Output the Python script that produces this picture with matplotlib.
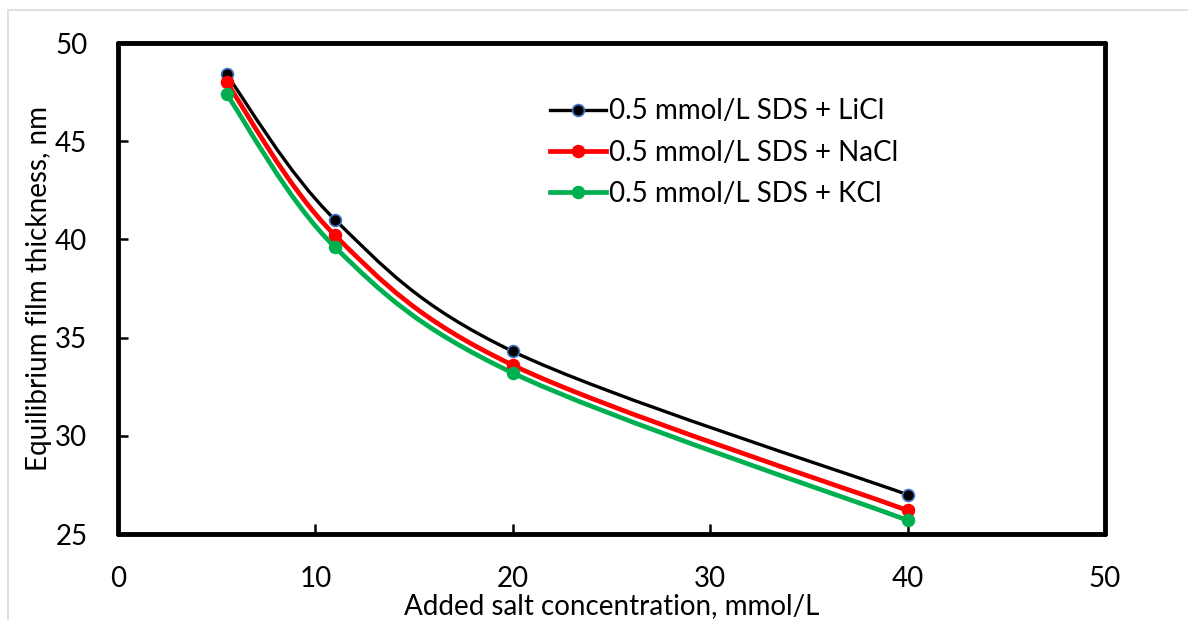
import numpy as np
import matplotlib
matplotlib.use("Agg")
import matplotlib.pyplot as plt
from matplotlib.path import Path
from matplotlib.patches import PathPatch, Rectangle
from matplotlib.lines import Line2D

# Dane
salt_conc = [5.5, 11, 20, 40]
licl_thickness = [48.4, 41.0, 34.3, 27.0]
nacl_thickness = [48.0, 40.2, 33.6, 26.2]
kcl_thickness = [47.4, 39.6, 33.2, 25.7]

labels = ["0.5 mmol/L SDS + LiCl", "0.5 mmol/L SDS + NaCl", "0.5 mmol/L SDS + KCl"]

plt.rcParams['font.family'] = ['Lato', 'DejaVu Sans']


def smooth_path(xs, ys):
    """Gładka krzywa Beziera przez punkty (jak 'smoothed line' w Excelu)."""
    pts = np.column_stack([xs, ys]).astype(float)
    n = len(pts)
    verts = [pts[0]]
    codes = [Path.MOVETO]
    for i in range(n - 1):
        p_prev = pts[i - 1] if i > 0 else pts[i]
        p_next = pts[i + 2] if i + 2 < n else pts[i + 1]
        c1 = pts[i] + (pts[i + 1] - p_prev) / 6
        c2 = pts[i + 1] - (p_next - pts[i]) / 6
        verts += [c1, c2, pts[i + 1]]
        codes += [Path.CURVE4] * 3
    return Path(verts, codes)


fig = plt.figure(figsize=(11.88, 6.2), dpi=100)
ax = fig.add_axes([0.0993, 0.1387, 0.8308, 0.7919])

# cienka szara ramka obszaru wykresu
fig.patches.append(Rectangle((8 / 1188, -0.1), 1.2, 1.1 - 10 / 620, transform=fig.transFigure,
                             fill=False, edgecolor="#d9d9d9", linewidth=1.2))

series = [
    (licl_thickness, "black", 2.4, "black", "#4472c4"),
    (nacl_thickness, "#ff0000", 3.4, "#ff0000", "#ff0000"),
    (kcl_thickness, "#00b050", 3.4, "#00b050", "#00b050"),
]

handles = []
for (ys, col, lw, mfc, mec), lab in zip(series, labels):
    patch = PathPatch(smooth_path(salt_conc, ys), fill=False, edgecolor=col,
                      linewidth=lw, capstyle="round", joinstyle="round", zorder=3)
    ax.add_patch(patch)
    ax.plot(salt_conc, ys, linestyle="none", marker="o", markersize=8.5,
            markerfacecolor=mfc, markeredgecolor=mec, markeredgewidth=1.2, zorder=4)
    handles.append(Line2D([], [], color=col, linewidth=lw, marker="o", markersize=8.5,
                          markerfacecolor=mfc, markeredgecolor=mec, markeredgewidth=1.2))

ax.set_xlim(0, 50)
ax.set_ylim(25, 50)
ax.set_xticks([0, 10, 20, 30, 40, 50])
ax.set_yticks([25, 30, 35, 40, 45, 50])

for sp in ax.spines.values():
    sp.set_linewidth(3.5)
    sp.set_color("black")
    sp.set_capstyle("round")

ax.tick_params(direction="in", length=7, width=1.8, labelsize=20)
ax.tick_params(axis="x", pad=23)
ax.tick_params(axis="y", pad=22)

ax.set_xlabel("Added salt concentration, mmol/L", fontsize=20, labelpad=0.5)
ax.set_ylabel("Equilibrium film thickness, nm", fontsize=20, labelpad=2)

ax.legend(handles, labels, loc="upper left", bbox_to_anchor=(0.426, 0.91), frameon=False,
          fontsize=20, handlelength=2.05, handletextpad=0.1, labelspacing=0.55,
          borderaxespad=0)

fig.savefig("out.png", dpi=100)
